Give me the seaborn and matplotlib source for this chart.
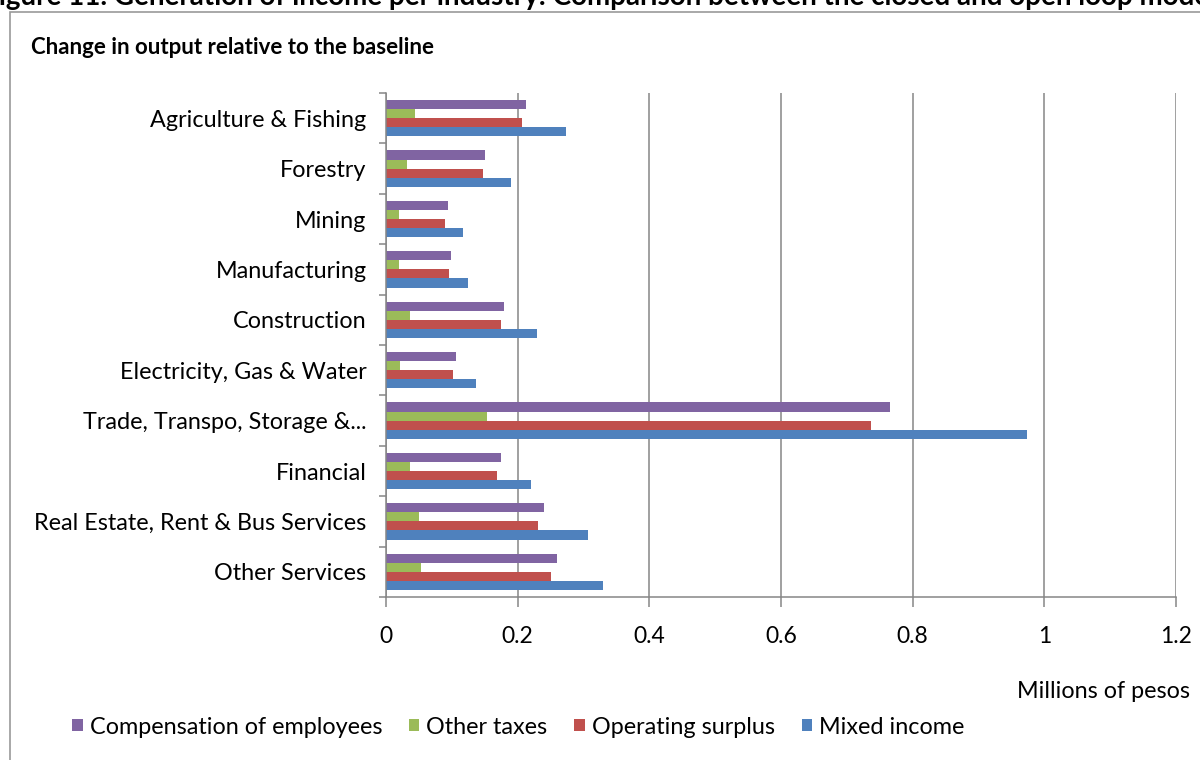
import matplotlib
matplotlib.use("Agg")
import matplotlib.pyplot as plt
from matplotlib.patches import Rectangle
from matplotlib.ticker import MultipleLocator, FuncFormatter
import seaborn as sns
import pandas as pd

industries = [
    "Agriculture & Fishing",
    "Forestry",
    "Mining",
    "Manufacturing",
    "Construction",
    "Electricity, Gas & Water",
    "Trade, Transpo, Storage &...",
    "Financial",
    "Real Estate, Rent & Bus Services",
    "Other Services",
]
series_names = ["Compensation of employees", "Other taxes", "Operating surplus", "Mixed income"]
compensation = [0.213, 0.151, 0.094, 0.099, 0.179, 0.107, 0.765, 0.174, 0.240, 0.260]
other_taxes = [0.044, 0.032, 0.020, 0.020, 0.036, 0.022, 0.153, 0.036, 0.050, 0.053]
operating_surplus = [0.207, 0.147, 0.090, 0.096, 0.174, 0.102, 0.737, 0.169, 0.231, 0.250]
mixed_income = [0.273, 0.190, 0.117, 0.124, 0.229, 0.137, 0.974, 0.220, 0.307, 0.329]
x_ticks = [0, 0.2, 0.4, 0.6, 0.8, 1.0, 1.2]

colors = ["#8064A2", "#9BBB59", "#C0504D", "#4F81BD"]
grey = "#868686"

rows = []
for name, vals in zip(series_names, [compensation, other_taxes, operating_surplus, mixed_income]):
    for ind, v in zip(industries, vals):
        rows.append({"Industry": ind, "Component": name, "Value": v})
df = pd.DataFrame(rows)

sns.set_theme(style="white")
plt.rcParams["font.family"] = ["Lato", "DejaVu Sans"]
plt.rcParams["text.color"] = "black"

W, H = 1200, 760
fig = plt.figure(figsize=(W / 100, H / 100), dpi=100)
ax = fig.add_axes([386 / W, 1 - 597 / H, 790 / W, 504 / H])

sns.barplot(
    data=df, y="Industry", x="Value", hue="Component",
    order=industries, hue_order=series_names, palette=colors,
    orient="h", width=0.72, gap=0, saturation=1, linewidth=0, ax=ax,
)

ax.set_xlim(0, 1.2)
ax.set_ylim(len(industries) - 0.5, -0.5)
ax.set_xticks(x_ticks)
ax.xaxis.set_major_formatter(FuncFormatter(lambda v, _: f"{v:g}"))
ax.set_xlabel("")
ax.set_ylabel("")
ax.grid(axis="x", color=grey, linewidth=1.1)
ax.set_axisbelow(True)

for side in ["top", "right"]:
    ax.spines[side].set_visible(False)
for side in ["left", "bottom"]:
    ax.spines[side].set_color(grey)
    ax.spines[side].set_linewidth(1.1)

ax.tick_params(axis="x", which="major", direction="out", length=7, width=1.1,
               color=grey, pad=14, labelsize=16.5, labelcolor="black", bottom=True)
ax.tick_params(axis="y", which="major", length=0, pad=14, labelsize=16.8, labelcolor="black")
ax.yaxis.set_minor_locator(MultipleLocator(1, offset=0.5))
ax.tick_params(axis="y", which="minor", direction="out", length=5, width=1.1, color=grey, left=True)

sns.move_legend(
    ax, loc="center left", bbox_to_anchor=(72 / W, 1 - 727 / H),
    bbox_transform=fig.transFigure, ncol=4, frameon=False, title=None,
    fontsize=16.8, handlelength=0.45, handleheight=0.45, handletextpad=0.3,
    columnspacing=1.15, borderaxespad=0, borderpad=0,
)

fig.text(1190 / W, 1 - 691 / H, "Millions of pesos", ha="right", va="center", fontsize=16.8)
fig.text(31 / W, 1 - 47 / H, "Change in output relative to the baseline",
         ha="left", va="center", fontsize=16, fontweight="bold")
fig.text(-17 / W, 1 - 5 / H,
         "Figure 11. Generation of income per industry: Comparison between the closed and open loop model",
         ha="left", va="baseline", fontsize=20, fontweight="bold")

fig.patches.append(Rectangle((10 / W, -0.1), 1.2, 1 - 12 / H + 0.1, transform=fig.transFigure,
                             fill=False, edgecolor="#9a9a9a", linewidth=1.2))

fig.savefig("out.png", dpi=100)
